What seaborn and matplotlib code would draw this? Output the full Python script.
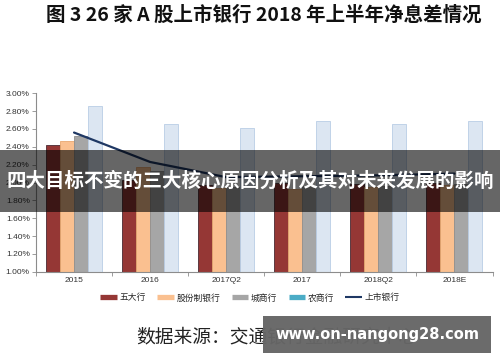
import numpy as np
import pandas as pd
import matplotlib.pyplot as plt
import seaborn as sns
from matplotlib.lines import Line2D
from matplotlib.patches import Rectangle
from matplotlib.ticker import FuncFormatter

# 数据（从图中读取，被遮挡部分为估计值）
periods = ['2015', '2016', '2017Q2', '2017', '2018Q2', '2018E']
big5 = [2.42, 2.03, 1.97, 1.99, 1.98, 2.00]
joint = [2.47, 2.17, 1.94, 1.93, 1.95, 1.97]
city = [2.52, 2.13, 1.95, 1.96, 1.96, 1.98]
rural = [2.86, 2.66, 2.61, 2.69, 2.66, 2.69]
listed = [2.56, 2.23, 2.06, 2.07, 2.08, 2.10]
series = ['五大行', '股份制银行', '城商行', '农商行']
yticks = [1.0, 1.2, 1.4, 1.6, 1.8, 2.0, 2.2, 2.4, 2.6, 2.8, 3.0]

df = pd.DataFrame({
    '期间': periods * 4,
    '类型': np.repeat(series, len(periods)),
    '净息差': big5 + joint + city + rural,
})

sns.set_theme(style='white')
plt.rcParams['font.family'] = ['Noto Sans CJK SC', 'DejaVu Sans']
plt.rcParams['axes.unicode_minus'] = False

fig = plt.figure(figsize=(5, 3.62), dpi=100)
ax = fig.add_axes([0.072, 0.2494, 0.913, 0.4929])

bar_colors = ['#953735', '#FAC090', '#A6A6A6', '#DCE6F2']
edge_colors = ['#4a2a33', '#e8a870', '#8f8f8f', '#b9cde5']
sns.barplot(data=df, x='期间', y='净息差', hue='类型', palette=bar_colors,
            width=0.736, saturation=1, legend=False, ax=ax)
for cont, ec in zip(ax.containers, edge_colors):
    for p in cont:
        p.set_edgecolor(ec)
        p.set_linewidth(0.6)

sns.lineplot(x=np.arange(len(periods)), y=listed, color='#1F3864', lw=1.6, ax=ax)

ax.set_ylim(1.0, 3.0)
ax.set_xlim(-0.5, len(periods) - 0.5)
ax.set_yticks(yticks)
ax.yaxis.set_major_formatter(FuncFormatter(lambda v, p: f'{v:.2f}%'))
ax.set_xticks(range(len(periods)))
ax.set_xticklabels(periods)
ax.set_xticks(np.arange(-0.5, len(periods), 1.0), minor=True)
ax.set_xlabel('')
ax.set_ylabel('')

for s in ['top', 'right']:
    ax.spines[s].set_visible(False)
for s in ['left', 'bottom']:
    ax.spines[s].set_color('#8c8c8c')
    ax.spines[s].set_linewidth(0.8)

ax.tick_params(axis='y', length=3, width=0.6, color='#8c8c8c', labelsize=6,
               pad=1.5, labelcolor='#333333', left=True)
ax.tick_params(axis='x', which='major', length=0, labelsize=6, pad=4,
               labelcolor='#333333')
ax.tick_params(axis='x', which='minor', length=3, width=0.6, color='#8c8c8c',
               bottom=True)
for lab in ax.get_yticklabels() + ax.get_xticklabels():
    lab.set_fontfamily('Liberation Sans')

# 标题
fig.text(0.528, 1 - 15 / 362, '图 3 26 家 A 股上市银行 2018 年上半年净息差情况',
         ha='center', va='center', fontsize=14, fontweight='bold', color='#111111')

# 图例
handles = [Line2D([0], [0], color=c, lw=3.8, solid_capstyle='butt')
           for c in ['#953735', '#FAC090', '#A6A6A6', '#4BACC6']]
handles.append(Line2D([0], [0], color='#1F3864', lw=1.5, solid_capstyle='butt'))
labels = series + ['上市银行']
fig.legend(handles, labels, loc='center', bbox_to_anchor=(0.5, 0.177), ncol=5,
           frameon=False, fontsize=6.3, handlelength=1.9, handletextpad=0.3,
           columnspacing=1.3)

# 数据来源
fig.text(136 / 500, 1 - 336.5 / 362, '数据来源：交通银行金融研究中心',
         fontsize=13.5, color='#222222', va='center', ha='left')

# 中间遮挡条
fig.add_artist(Rectangle((0, 0.4144), 1, 0.1713, transform=fig.transFigure,
                         facecolor='black', alpha=0.6, edgecolor='none', zorder=10))
fig.text(0.5, 0.5, '四大目标不变的三大核心原因分析及其对未来发展的影响', color='white',
         fontsize=14, fontweight='bold', ha='center', va='center', zorder=11)

# 右下角水印
fig.add_artist(Rectangle((0.526, 0.025), 0.456, 0.102, transform=fig.transFigure,
                         facecolor='#666666', alpha=0.97, edgecolor='none', zorder=10))
fig.text(0.754, 0.076, 'www.on-nangong28.com', color='white', fontsize=10.5,
         fontweight='bold', family=['DejaVu Sans'], ha='center', va='center', zorder=11)

fig.savefig('out.png', dpi=100)
